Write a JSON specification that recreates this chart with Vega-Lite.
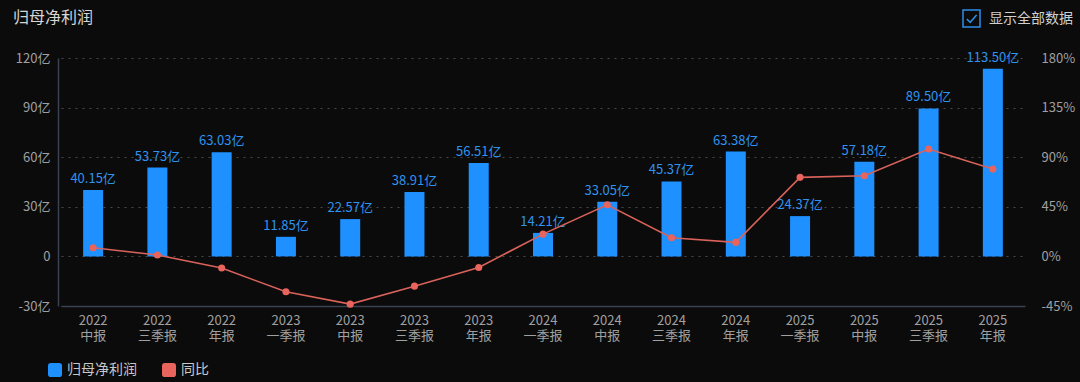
{
  "$schema": "https://vega.github.io/schema/vega-lite/v6.json",
  "width": 964,
  "height": 248,
  "autosize": {"type": "none"},
  "padding": {"left": 61, "top": 58, "right": 55, "bottom": 76},
  "background": "#0b0b0b",
  "title": {"text": "归母净利润", "anchor": "start", "frame": "group", "dx": -48, "offset": -17, "fontSize": 16, "fontWeight": "normal", "color": "#d6d6d6", "font": "Noto Sans CJK SC"},
  "data": {"values": [
    {"period": "2022 中报", "profit": 40.15, "yoy": 7.8},
    {"period": "2022 三季报", "profit": 53.73, "yoy": 1.2},
    {"period": "2022 年报", "profit": 63.03, "yoy": -10.6},
    {"period": "2023 一季报", "profit": 11.85, "yoy": -32.1},
    {"period": "2023 中报", "profit": 22.57, "yoy": -43.3},
    {"period": "2023 三季报", "profit": 38.91, "yoy": -27.0},
    {"period": "2023 年报", "profit": 56.51, "yoy": -10.0},
    {"period": "2024 一季报", "profit": 14.21, "yoy": 20.2},
    {"period": "2024 中报", "profit": 33.05, "yoy": 46.8},
    {"period": "2024 三季报", "profit": 45.37, "yoy": 16.9},
    {"period": "2024 年报", "profit": 63.38, "yoy": 12.7},
    {"period": "2025 一季报", "profit": 24.37, "yoy": 71.7},
    {"period": "2025 中报", "profit": 57.18, "yoy": 73.2},
    {"period": "2025 三季报", "profit": 89.50, "yoy": 97.4},
    {"period": "2025 年报", "profit": 113.50, "yoy": 79.2}
  ]},
  "encoding": {
    "x": {
      "field": "period", "type": "nominal", "sort": null,
      "scale": {"paddingInner": 0, "paddingOuter": 0},
      "axis": {"title": null, "labelAngle": 0, "labelExpr": "split(datum.label, ' ')", "labelColor": "#a0a0a0", "labelFontSize": 13, "labelLineHeight": 15, "labelPadding": 8, "ticks": false, "domainColor": "#3a4150", "domainWidth": 1.5, "grid": false}
    }
  },
  "layer": [
    {
      "encoding": {
        "y": {
          "field": "profit", "type": "quantitative",
          "scale": {"domain": [-30, 120], "nice": false},
          "axis": {"title": null, "values": [-30, 0, 30, 60, 90, 120], "labelExpr": "datum.value == 0 ? '0' : datum.value + '亿'", "grid": true, "gridColor": "#4a4a4a", "gridDash": [2, 5], "domainColor": "#3a4150", "domainWidth": 1.5, "offset": 3, "ticks": false, "labelPadding": 8, "labelColor": "#a0a0a0", "labelFontSize": 13}
        }
      },
      "layer": [
        {
          "mark": {"type": "bar", "size": 20},
          "encoding": {
            "color": {"datum": "归母净利润", "type": "nominal",
              "scale": {"domain": ["归母净利润", "同比"], "range": ["#1e90ff", "#e8645c"]},
              "legend": {"orient": "none", "legendX": -13, "legendY": 305, "direction": "horizontal", "title": null,
                "symbolType": "M-1,-0.6Q-1,-1 -0.6,-1H0.6Q1,-1 1,-0.6V0.6Q1,1 0.6,1H-0.6Q-1,1 -1,0.6Z",
                "symbolSize": 196, "symbolOpacity": 1, "symbolStrokeWidth": 0, "labelColor": "#c8c8c8", "labelFontSize": 14, "labelOffset": 5, "columnPadding": 25}}
          }
        },
        {
          "mark": {"type": "text", "baseline": "bottom", "dy": -4, "fontSize": 13, "color": "#2f93f0", "text": {"expr": "format(datum.profit, '.2f') + '亿'"}}
        }
      ]
    },
    {
      "encoding": {
        "y": {
          "field": "yoy", "type": "quantitative",
          "scale": {"domain": [-45, 180], "nice": false},
          "axis": {"orient": "right", "title": null, "values": [-45, 0, 45, 90, 135, 180], "labelExpr": "datum.value + '%'", "grid": false, "domain": false, "ticks": false, "labelPadding": 16, "labelColor": "#a0a0a0", "labelFontSize": 13}
        }
      },
      "layer": [
        {"mark": {"type": "line", "color": "#d9625a", "strokeWidth": 1.6}, "encoding": {}},
        {
          "mark": {"type": "point", "filled": true, "size": 50, "opacity": 1},
          "encoding": {"color": {"datum": "同比", "type": "nominal"}}
        },
        {
          "mark": {"type": "point", "filled": false, "opacity": 0, "color": "#2f8fe8"},
          "encoding": {
            "shape": {"datum": "显示全部数据", "type": "nominal",
              "scale": {"domain": ["显示全部数据"], "range": ["M-1,-1H1V1H-1Z M-0.55,0.05L-0.15,0.45L0.6,-0.4"]},
              "legend": {"orient": "none", "legendX": 901, "legendY": -49, "title": null,
                "symbolSize": 289, "symbolStrokeColor": "#2f8fe8", "symbolFillColor": "transparent", "symbolStrokeWidth": 1.5, "symbolOpacity": 1,
                "labelColor": "#d0d0d0", "labelFontSize": 14, "labelOffset": 8}}
          }
        }
      ]
    }
  ],
  "resolve": {"scale": {"y": "independent"}},
  "config": {
    "font": "Noto Sans CJK SC",
    "view": {"stroke": null},
    "legend": {"padding": 0, "labelFont": "Noto Sans CJK SC"}
  }
}
